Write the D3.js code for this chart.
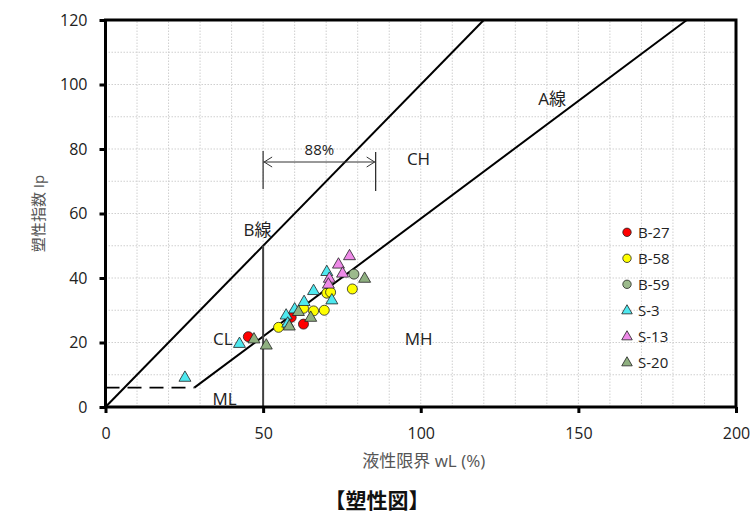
<!DOCTYPE html>
<html><head><meta charset="utf-8">
<script src="https://cdn.jsdelivr.net/npm/d3@7"></script>
<style>
body{margin:0;background:#fff;}
text{font-family:"Open Sans","Noto Sans CJK JP",sans-serif;}
</style></head>
<body><svg id="c" width="754" height="520"></svg>
<script>
// ---- data ----
const xTicks = [0, 50, 100, 150, 200];
const yTicks = [0, 20, 40, 60, 80, 100, 120];
const seriesNames = ["B-27", "B-58", "B-59", "S-3", "S-13", "S-20"];
const seriesShapes = ["circle", "circle", "circle", "triangle", "triangle", "triangle"];
const seriesColors = ["#ff0000", "#ffff00", "#9cba8c", "#4ee8ef", "#ee8ae8", "#8fb080"];
const b27 = [[45.3, 21.8], [58.9, 27.8], [62.8, 25.7]];
const b58 = [[54.9, 24.7], [62.8, 30.6], [66.0, 29.8], [69.4, 30.0], [70.2, 35.3], [71.4, 35.6], [78.3, 36.6]];
const b59 = [[78.8, 41.2]];
const s3 = [[25.2, 9.2], [42.5, 19.7], [57.3, 28.5], [60.0, 30.4], [63.0, 32.7], [66.0, 36.1], [70.2, 42.0], [71.8, 33.2], [57.8, 26.0]];
const s13 = [[77.4, 46.9], [73.9, 44.3], [75.2, 41.5], [71.0, 39.9], [70.7, 38.1]];
const s20 = [[82.2, 39.9], [65.1, 27.8], [61.2, 29.6], [58.3, 25.1], [47.1, 21.1], [51.0, 19.2]];
const seriesData = [b27, b58, b59, s3, s13, s20];
// reference lines (wL, Ip)
const uLine = [[0, 0], [120, 120]];          // Ip = wL
const aLine = [[28.2, 6], [184.4, 120]];     // Ip = 0.73(wL-20)
const mlLine = [[0, 6], [28.2, 6]];          // Ip = 6 (dashed)
const bLine = [[50, 0], [50, 50]];           // wL = 50
const zoneLabels = [["CH", 99.3, 77], ["A線", 141.7, 95.5], ["B線", 48.2, 55], ["CL", 37.2, 21], ["MH", 99.3, 21], ["ML", 37.8, 2.6]];
const span88 = [50, 85.7];

const svg = d3.select("#c");
const x = d3.scaleLinear().domain([0, 200]).range([105.5, 736]);
const y = d3.scaleLinear().domain([0, 120]).range([407, 20]);

// grid
const g = svg.append("g");
for (let v = 10; v < 200; v += 10) {
  g.append("line").attr("x1", x(v)).attr("x2", x(v)).attr("y1", y(0)).attr("y2", y(120))
    .attr("stroke", "#cfcfcf").attr("stroke-width", 1).attr("stroke-dasharray", "1.5,1.5");
}
for (let v = 10; v < 120; v += 10) {
  g.append("line").attr("x1", x(0)).attr("x2", x(200)).attr("y1", y(v)).attr("y2", y(v))
    .attr("stroke", "#cfcfcf").attr("stroke-width", 1).attr("stroke-dasharray", "1.5,1.5");
}

const line = d3.line().x(d => x(d[0])).y(d => y(d[1]));
svg.append("path").attr("d", line(uLine)).attr("stroke", "#000").attr("stroke-width", 2).attr("fill", "none");
svg.append("path").attr("d", line(aLine)).attr("stroke", "#000").attr("stroke-width", 2).attr("fill", "none");
svg.append("path").attr("d", line(mlLine)).attr("stroke", "#000").attr("stroke-width", 1.6).attr("fill", "none").attr("stroke-dasharray", "14,8");
svg.append("path").attr("d", line(bLine)).attr("stroke", "#404040").attr("stroke-width", 2).attr("fill", "none");

// 88% annotation
const ay = 162;
svg.append("line").attr("x1", x(span88[0])).attr("x2", x(span88[0])).attr("y1", 151).attr("y2", 189).attr("stroke", "#555").attr("stroke-width", 1.5);
svg.append("line").attr("x1", x(span88[1])).attr("x2", x(span88[1])).attr("y1", 152).attr("y2", 191).attr("stroke", "#222").attr("stroke-width", 1.2);
svg.append("line").attr("x1", x(span88[0])).attr("x2", x(span88[1])).attr("y1", ay).attr("y2", ay).attr("stroke", "#333").attr("stroke-width", 1);
svg.append("path").attr("d", `M${x(span88[0]) + 9},${ay - 5}L${x(span88[0]) + 1},${ay}L${x(span88[0]) + 9},${ay + 5}`).attr("stroke", "#333").attr("fill", "none");
svg.append("path").attr("d", `M${x(span88[1]) - 9},${ay - 5}L${x(span88[1]) - 1},${ay}L${x(span88[1]) - 9},${ay + 5}`).attr("stroke", "#333").attr("fill", "none");
svg.append("text").attr("x", (x(span88[0]) + x(span88[1])) / 2).attr("y", 155).attr("text-anchor", "middle")
  .attr("font-size", 15).attr("fill", "#222").text("88%");

// zone labels
zoneLabels.forEach(([t, vx, vy]) => {
  svg.append("text").attr("x", x(vx)).attr("y", y(vy)).attr("text-anchor", "middle").attr("dy", "0.35em")
    .attr("font-size", 17).attr("fill", "#222").text(t);
});

// points
const tri = d3.symbol().type(d3.symbolTriangle).size(62);
const triL = d3.symbol().type(d3.symbolTriangle).size(48);
seriesData.forEach((data, i) => {
  const grp = svg.append("g");
  if (seriesShapes[i] === "circle") {
    grp.selectAll("circle").data(data).join("circle")
      .attr("cx", d => x(d[0])).attr("cy", d => y(d[1])).attr("r", 5)
      .attr("fill", seriesColors[i]).attr("stroke", "#222").attr("stroke-width", 0.8);
  } else {
    grp.selectAll("path").data(data).join("path")
      .attr("d", tri).attr("transform", d => `translate(${x(d[0])},${y(d[1]) + 0.5})`)
      .attr("fill", seriesColors[i]).attr("stroke", "#222").attr("stroke-width", 0.8);
  }
});

// axes
const xAxis = d3.axisBottom(x).tickValues(xTicks).tickSize(6).tickPadding(15).tickFormat(d3.format("d"));
const yAxis = d3.axisLeft(y).tickValues(yTicks).tickSize(6).tickPadding(12).tickFormat(d3.format("d"));
const gx = svg.append("g").attr("transform", `translate(0,${y(0)})`).call(xAxis);
const gy = svg.append("g").attr("transform", `translate(${x(0)},0)`).call(yAxis);
[gx, gy].forEach(a => {
  a.select(".domain").remove();
  a.selectAll(".tick line").attr("stroke", "#000").attr("stroke-width", 3);
  a.selectAll(".tick text").attr("font-size", 16).attr("fill", "#222").attr("font-family", "'Open Sans',sans-serif");
});
// frame
svg.append("rect").attr("x", x(0)).attr("y", y(120)).attr("width", x(200) - x(0)).attr("height", y(0) - y(120))
  .attr("fill", "none").attr("stroke", "#000").attr("stroke-width", 3);

// axis titles
svg.append("text").attr("x", (x(0) + x(200)) / 2 + 3).attr("y", 467).attr("text-anchor", "middle")
  .attr("font-size", 17).attr("fill", "#555").text("液性限界 wL (%)");
svg.append("text").attr("transform", `translate(44,${(y(0) + y(120)) / 2}) rotate(-90)`).attr("text-anchor", "middle")
  .attr("font-size", 15).attr("fill", "#555").text("塑性指数 Ip");

// legend
const ly0 = 232.3, ldy = 26;
seriesNames.forEach((n, i) => {
  const yy = ly0 + i * ldy;
  if (seriesShapes[i] === "circle") {
    svg.append("circle").attr("cx", 627).attr("cy", yy).attr("r", 4.2).attr("fill", seriesColors[i]).attr("stroke", "#222").attr("stroke-width", 0.8);
  } else {
    svg.append("path").attr("d", triL).attr("transform", `translate(627,${yy + 0.5})`).attr("fill", seriesColors[i]).attr("stroke", "#222").attr("stroke-width", 0.8);
  }
  svg.append("text").attr("x", 638).attr("y", yy).attr("dy", "0.35em").attr("font-size", 15).attr("fill", "#222").text(n);
});

// title
svg.append("text").attr("x", 377).attr("y", 508).attr("text-anchor", "middle").attr("font-size", 21)
  .attr("font-weight", "bold").attr("fill", "#111").text("【塑性図】");
</script></body></html>
